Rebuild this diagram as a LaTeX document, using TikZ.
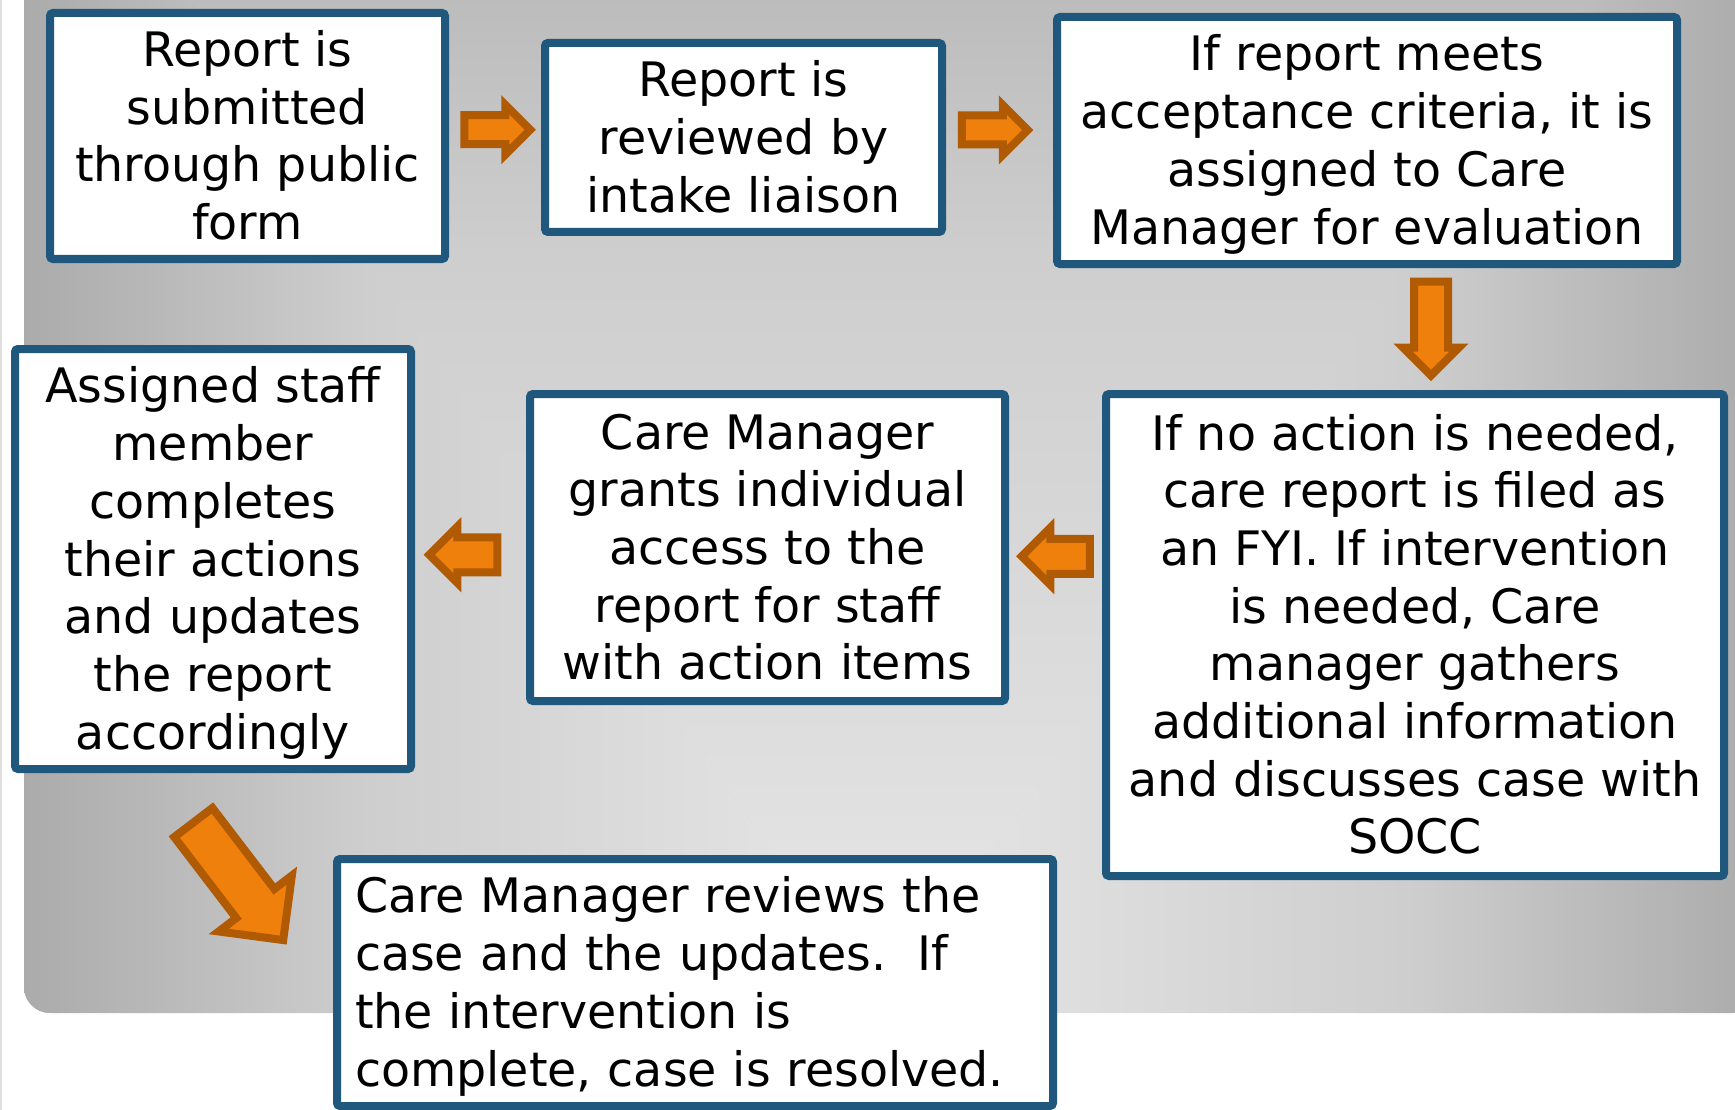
\documentclass[tikz,border=0pt]{standalone}
\usepackage{fontspec}
\setmainfont{DejaVu Sans}
\usetikzlibrary{shapes.arrows,calc}

\definecolor{boxline}{RGB}{31,88,124}
\definecolor{arrowfill}{RGB}{240,128,12}
\definecolor{arrowline}{RGB}{176,90,4}
\definecolor{bgdark}{RGB}{171,171,171}
\definecolor{bgmid}{RGB}{206,206,206}
\definecolor{bglight}{RGB}{231,231,231}

% grey slide backdrop, dark at the edges
\pgfdeclarehorizontalshading{slideshade}{100bp}{color(0bp)=(bgdark); color(25bp)=(bgdark); color(45bp)=(bgmid); color(75bp)=(bglight); color(100bp)=(bglight)}

% fixed line box so every step centres the same way
\newcommand{\linestrut}{\rule[-12pt]{0pt}{58pt}}

\tikzset{
  stepbox/.style={draw=boxline, line width=8pt, fill=white, rounded corners=3pt,
    align=center, inner sep=0pt, font=\fontsize{47.5}{57.7}\selectfont,
    execute at end node=\linestrut},
  flowarrow/.style={single arrow, single arrow tip angle=90, draw=arrowline,
    fill=arrowfill, line width=8pt, inner xsep=0pt, minimum width=0pt}
}

\begin{document}
\begin{tikzpicture}[x=1pt,y=-1pt]
\useasboundingbox (0,0) rectangle (1735,1110);
\fill[white] (0,0) rectangle (1735,1110);
\draw[gray!25, line width=1.5pt] (0.75,0) -- (0.75,1110);

% backdrop: three wedges meeting at the bottom middle
\begin{scope}
\clip[rounded corners=26pt] (24,-250) rectangle (1760,1013);
\fill[bgmid] (24,-250) rectangle (1760,1013);
\coordinate (ctr) at (880,1013);
\shade[shading=slideshade] (ctr) -- (24,1013) -- (24,-250) -- cycle;
\shade[shading=slideshade, shading angle=180] (ctr) -- (1760,1013) -- (1760,-250) -- cycle;
\shade[shading=slideshade, shading angle=-90] (ctr) -- (24,-250) -- (1760,-250) -- cycle;
\end{scope}

% the steps
\node[stepbox, minimum width=395pt, minimum height=246pt] (submit) at (247.5,136)
  {\linestrut Report is\\submitted\\through public\\form};
\node[stepbox, minimum width=397pt, minimum height=189pt] (review) at (743.5,137.5)
  {\linestrut Report is\\reviewed by\\intake liaison};
\node[stepbox, minimum width=620pt, minimum height=247pt] (assign) at (1367,140.5)
  {\linestrut If report meets\\acceptance criteria, it is\\assigned to Care\\Manager for evaluation};
\node[stepbox, minimum width=618pt, minimum height=482pt] (triage) at (1415,635)
  {\linestrut If no action is needed,\\care report is filed as\\an FYI. If intervention\\is needed, Care\\manager gathers\\additional information\\and discusses case with\\SOCC};
\node[stepbox, minimum width=475pt, minimum height=307pt] (grant) at (767.5,547.5)
  {\linestrut Care Manager\\grants individual\\access to the\\report for staff\\with action items};
\node[stepbox, minimum width=396pt, minimum height=420pt] (staff) at (213,559)
  {\linestrut Assigned staff\\member\\completes\\their actions\\and updates\\the report\\accordingly};
\node[stepbox, align=left, text width=680pt, minimum width=716pt, minimum height=247pt] (close) at (695,982.5)
  {\linestrut Care Manager reviews the\\case and the updates.~~If\\the intervention is\\complete, case is resolved.};

% block arrows between the steps
\node[flowarrow, inner ysep=10.5pt, single arrow head extend=10.5pt, minimum height=66pt]
  (a1) at ($(submit.east)!.5!(review.west)+(-5,-7)$) {};
\node[flowarrow, inner ysep=10.5pt, single arrow head extend=10.5pt, minimum height=66pt]
  (a2) at ($(review.east)!.5!(assign.west)+(-12,-9)$) {};
\node[flowarrow, rotate=-90, inner ysep=13pt, single arrow head extend=11pt, minimum height=94pt]
  (a3) at ($(assign.south)!.5!(triage.north)+(40,-9)$) {};
\node[flowarrow, rotate=180, inner ysep=13.5pt, single arrow head extend=11pt, minimum height=68pt]
  (a4) at ($(triage.west)!.5!(grant.east)+(9,-35)$) {};
\node[flowarrow, rotate=180, inner ysep=13.5pt, single arrow head extend=10.5pt, minimum height=68pt]
  (a5) at ($(grant.west)!.5!(staff.east)+(1.5,1.5)$) {};
\node[flowarrow, rotate=-52.6, inner ysep=20pt, single arrow head extend=22pt, minimum height=148pt]
  (a6) at ($(staff.south)!.5!(close.west)+(-42,-6)$) {};
\end{tikzpicture}
\end{document}
